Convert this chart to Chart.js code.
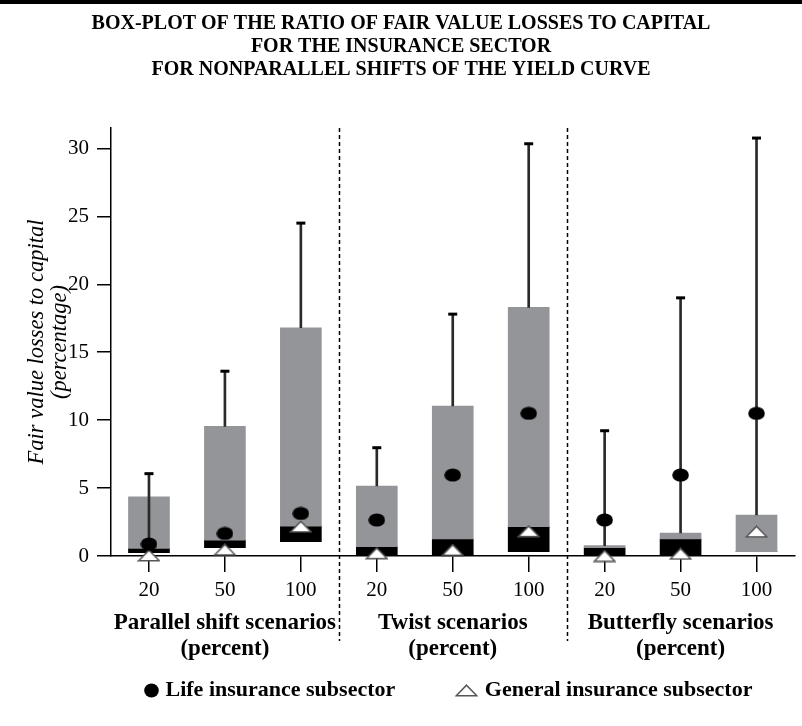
<!DOCTYPE html>
<html>
<head>
<meta charset="utf-8">
<script src="https://cdn.jsdelivr.net/npm/chart.js@4.4.0/dist/chart.umd.min.js"></script>
<style>
  html, body { margin: 0; padding: 0; background: #fff; }
  #wrap { width: 802px; height: 726px; }
</style>
</head>
<body>
<div id="wrap"><canvas id="chart" width="802" height="726"></canvas></div>
<script>
// === DATA ===
const titleLines = [
  "BOX-PLOT OF THE RATIO OF FAIR VALUE LOSSES TO CAPITAL",
  "FOR THE INSURANCE SECTOR",
  "FOR NONPARALLEL SHIFTS OF THE YIELD CURVE"
];
const categories = ["20", "50", "100", "20", "50", "100", "20", "50", "100"];
const groups = [
  ["Parallel shift scenarios", "(percent)"],
  ["Twist scenarios", "(percent)"],
  ["Butterfly scenarios", "(percent)"]
];
const yTicks = [0, 5, 10, 15, 20, 25, 30];

// box parts (percent): lower quartile, median, upper quartile
const boxLow  = [0.24, 0.61, 1.05, 0.00, 0.00, 0.32, 0.00, 0.00, 0.32];
const boxMid  = [0.56, 1.17, 2.20, 0.69, 1.25, 2.16, 0.61, 1.25, 0.32];
const boxHigh = [4.35, 9.54, 16.8, 5.15, 11.04, 18.3, 0.76, 1.69, 3.02];
// whiskers
const whiskerFrom = [0.56, 9.54, 16.8, 5.15, 11.04, 18.3, 0.76, 1.69, 3.02];
const whiskerTop  = [6.06, 13.6, 24.5, 7.97, 17.8, 30.34, 9.22, 19.0, 30.76];
// subsector markers
const lifeValues    = [0.88, 1.66, 3.13, 2.65, 5.96, 10.5, 2.65, 5.96, 10.5];
const generalValues = [0.04, 0.46, 2.16, 0.20, 0.44, 1.82, 0.00, 0.16, 1.79];

const legendNames = ["Life insurance subsector", "General insurance subsector"];

const SERIF = "'Liberation Serif', 'DejaVu Serif', serif";

// === MARKERS ===
function makeDot(w, h) {
  const c = document.createElement("canvas");
  c.width = w; c.height = h;
  const g = c.getContext("2d");
  g.fillStyle = "#000";
  g.beginPath();
  g.ellipse(w / 2, h / 2, w / 2 - 0.2, h / 2 - 0.4, 0, 0, Math.PI * 2);
  g.fill();
  return c;
}
function makeTriangle() {
  const c = document.createElement("canvas");
  c.width = 23; c.height = 13;
  const g = c.getContext("2d");
  g.fillStyle = "#fff";
  g.strokeStyle = "#555";
  g.lineWidth = 1.6;
  g.beginPath();
  g.moveTo(11.5, 1.2);
  g.lineTo(21.8, 11.8);
  g.lineTo(1.2, 11.8);
  g.closePath();
  g.fill();
  g.stroke();
  return c;
}
const dotImg = makeDot(17, 14);
const legendDot = makeDot(15, 15);
const triImg = makeTriangle();

// thick rule at the very top
const topRule = {
  id: "topRule",
  beforeDraw(chart) {
    const ctx = chart.ctx;
    ctx.save();
    ctx.fillStyle = "#000";
    ctx.fillRect(0, 0, chart.width, 4);
    ctx.restore();
  }
};

// dashed separators between scenario groups
const groupSeparators = {
  id: "groupSeparators",
  afterDraw(chart) {
    const x = chart.scales.x;
    const ctx = chart.ctx;
    ctx.save();
    ctx.strokeStyle = "#000";
    ctx.lineWidth = 1.5;
    ctx.setLineDash([4, 3]);
    for (let g = 1; g < groups.length; g++) {
      const px = Math.round(x.getPixelForValue(g * 3 - 0.5)) + 0.5;
      ctx.beginPath();
      ctx.moveTo(px, chart.chartArea.top);
      ctx.lineTo(px, chart.chartArea.bottom + 85);
      ctx.stroke();
    }
    ctx.restore();
  }
};

// legend row under the group labels: marker, then bold label
const bottomLegend = {
  id: "bottomLegend",
  afterDraw(chart) {
    const ctx = chart.ctx;
    const area = chart.chartArea;
    const marks = [legendDot, triImg];
    const y = area.bottom + 134;
    let x = area.left + 29;
    ctx.save();
    ctx.font = "bold 22px " + SERIF;
    ctx.fillStyle = "#000";
    ctx.textAlign = "left";
    ctx.textBaseline = "middle";
    legendNames.forEach((name, i) => {
      const m = marks[i];
      ctx.drawImage(m, Math.round(x + 11 - m.width / 2), Math.round(y - m.height / 2));
      const tx = x + 11 + m.width / 2 + 7;
      ctx.fillText(name, tx, y);
      x = tx + ctx.measureText(name).width + 60;
    });
    ctx.restore();
  }
};

const ctx = document.getElementById("chart");

new Chart(ctx, {
  type: "bar",
  data: {
    labels: categories,
    datasets: [
      {
        label: "lower box",
        data: categories.map((_, i) => [boxLow[i], boxMid[i]]),
        backgroundColor: "#000",
        barThickness: 41,
        grouped: false,
        order: 5
      },
      {
        label: "upper box",
        data: categories.map((_, i) => [boxMid[i], boxHigh[i]]),
        backgroundColor: "#939598",
        barThickness: 41,
        grouped: false,
        order: 4
      },
      {
        label: "whisker",
        data: categories.map((_, i) => [whiskerFrom[i], whiskerTop[i]]),
        backgroundColor: "#2a2a2a",
        barThickness: 2,
        grouped: false,
        order: 3
      },
      {
        type: "line",
        label: "cap",
        data: whiskerTop,
        showLine: false,
        pointStyle: "line",
        pointRadius: 4.5,
        pointBorderWidth: 3,
        borderColor: "#000",
        clip: false,
        order: 2
      },
      {
        type: "line",
        label: legendNames[0],
        data: lifeValues,
        showLine: false,
        pointStyle: dotImg,
        borderColor: "#000",
        backgroundColor: "#000",
        clip: false,
        order: 0
      },
      {
        type: "line",
        label: legendNames[1],
        data: generalValues,
        showLine: false,
        pointStyle: triImg,
        borderColor: "#555",
        backgroundColor: "#fff",
        clip: false,
        order: 1
      }
    ]
  },
  options: {
    responsive: false,
    devicePixelRatio: 1,
    animation: false,
    layout: { padding: { left: 0, right: 0, top: 0, bottom: 59 } },
    plugins: {
      tooltip: { enabled: false },
      legend: { display: false },
      title: {
        display: true,
        text: titleLines,
        color: "#000",
        font: { family: SERIF, size: 20, weight: "bold", lineHeight: 1.15 },
        padding: { top: 12.5, bottom: 46.5 }
      }
    },
    scales: {
      x: {
        type: "category",
        offset: true,
        afterFit: (s) => { s.height = 47; },
        border: { color: "#000", width: 1.5 },
        grid: { offset: false, drawOnChartArea: false, drawTicks: true, tickLength: 16, color: "#000", lineWidth: 1.5 },
        ticks: { autoSkip: false, maxRotation: 0, color: "#000", padding: 6, font: { family: SERIF, size: 21 } }
      },
      x2: {
        type: "category",
        position: "bottom",
        labels: groups,
        offset: true,
        afterFit: (s) => { s.height = 64; },
        border: { display: false },
        grid: { display: false, drawTicks: false, tickLength: 0 },
        ticks: { autoSkip: false, maxRotation: 0, color: "#000", padding: 7, font: { family: SERIF, size: 23, weight: "bold", lineHeight: 1.13 } }
      },
      y: {
        min: 0,
        max: 31.5,
        afterBuildTicks: (s) => { s.ticks = yTicks.map(v => ({ value: v })); },
        afterFit: (s) => { s.width = 111; },
        border: { color: "#000", width: 1.5 },
        grid: { drawOnChartArea: false, drawTicks: true, tickLength: 14, color: "#000", lineWidth: 1.5 },
        ticks: { color: "#000", padding: 8, font: { family: SERIF, size: 21 } },
        title: {
          display: true,
          text: ["Fair value losses to capital", "(percentage)"],
          color: "#000",
          font: { family: SERIF, size: 22.5, style: "italic", lineHeight: 1.02 },
          padding: { top: 26, bottom: 0 }
        }
      }
    }
  },
  plugins: [topRule, groupSeparators, bottomLegend]
});
</script>
</body>
</html>
